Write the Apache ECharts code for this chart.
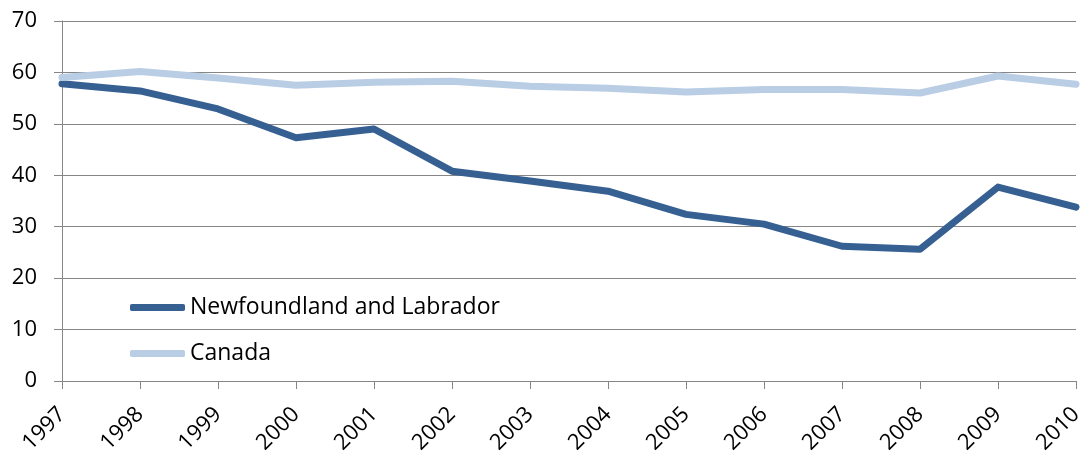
<!DOCTYPE html>
<html>
<head>
<meta charset="utf-8">
<script src="https://cdn.jsdelivr.net/npm/echarts@6/dist/echarts.min.js"></script>
<style>
    html, body { margin: 0; padding: 0; background: #fff; }
    #chart { width: 1083px; height: 454px; }
</style>
</head>
<body>
<div id="chart"></div>
<script>
var years = ['1997', '1998', '1999', '2000', '2001', '2002', '2003', '2004', '2005', '2006', '2007', '2008', '2009', '2010'];
var newfoundland = [57.8, 56.4, 52.9, 47.3, 49.0, 40.8, 38.9, 36.9, 32.4, 30.5, 26.2, 25.6, 37.7, 33.8];
var canada = [59.0, 60.2, 58.9, 57.5, 58.1, 58.3, 57.3, 56.9, 56.2, 56.7, 56.7, 56.0, 59.3, 57.7];
var seriesNames = ['Newfoundland and Labrador', 'Canada'];

var myChart = echarts.init(document.getElementById('chart'));
var font = 'Open Sans';
var option = {
    animation: false,
    grid: {
        left: 62,
        right: 7,
        top: 21,
        bottom: 73,
        outerBoundsMode: 'none'
    },
    legend: {
        orient: 'vertical',
        left: 130,
        top: 296,
        padding: 0,
        itemWidth: 55,
        itemHeight: 7,
        itemGap: 23,
        icon: 'roundRect',
        textStyle: {
            fontFamily: font,
            fontSize: 23,
            color: '#000'
        },
        data: seriesNames
    },
    xAxis: {
        type: 'category',
        boundaryGap: false,
        data: years,
        axisLine: { lineStyle: { color: '#868686', width: 1 } },
        axisTick: { show: true, length: 8, lineStyle: { color: '#868686' } },
        axisLabel: {
            rotate: 45,
            margin: 30,
            interval: 0,
            fontFamily: font,
            fontSize: 22,
            color: '#000'
        },
        splitLine: { show: false }
    },
    yAxis: {
        type: 'value',
        min: 0,
        max: 70,
        interval: 10,
        axisLine: { show: true, lineStyle: { color: '#868686', width: 1 } },
        axisTick: { show: true, length: 8, lineStyle: { color: '#868686' } },
        axisLabel: {
            margin: 25,
            fontFamily: font,
            fontSize: 22,
            color: '#000'
        },
        splitLine: { show: true, lineStyle: { color: '#868686', width: 1 } }
    },
    series: [{
        name: seriesNames[0],
        type: 'line',
        data: newfoundland,
        showSymbol: false,
        symbol: 'none',
        itemStyle: { color: '#376092' },
        lineStyle: { color: '#376092', width: 7, cap: 'round', join: 'round' }
    }, {
        name: seriesNames[1],
        type: 'line',
        data: canada,
        showSymbol: false,
        symbol: 'none',
        itemStyle: { color: '#B9CDE5' },
        lineStyle: { color: '#B9CDE5', width: 7, cap: 'round', join: 'round' }
    }]
};
myChart.setOption(option);
</script>
</body>
</html>
